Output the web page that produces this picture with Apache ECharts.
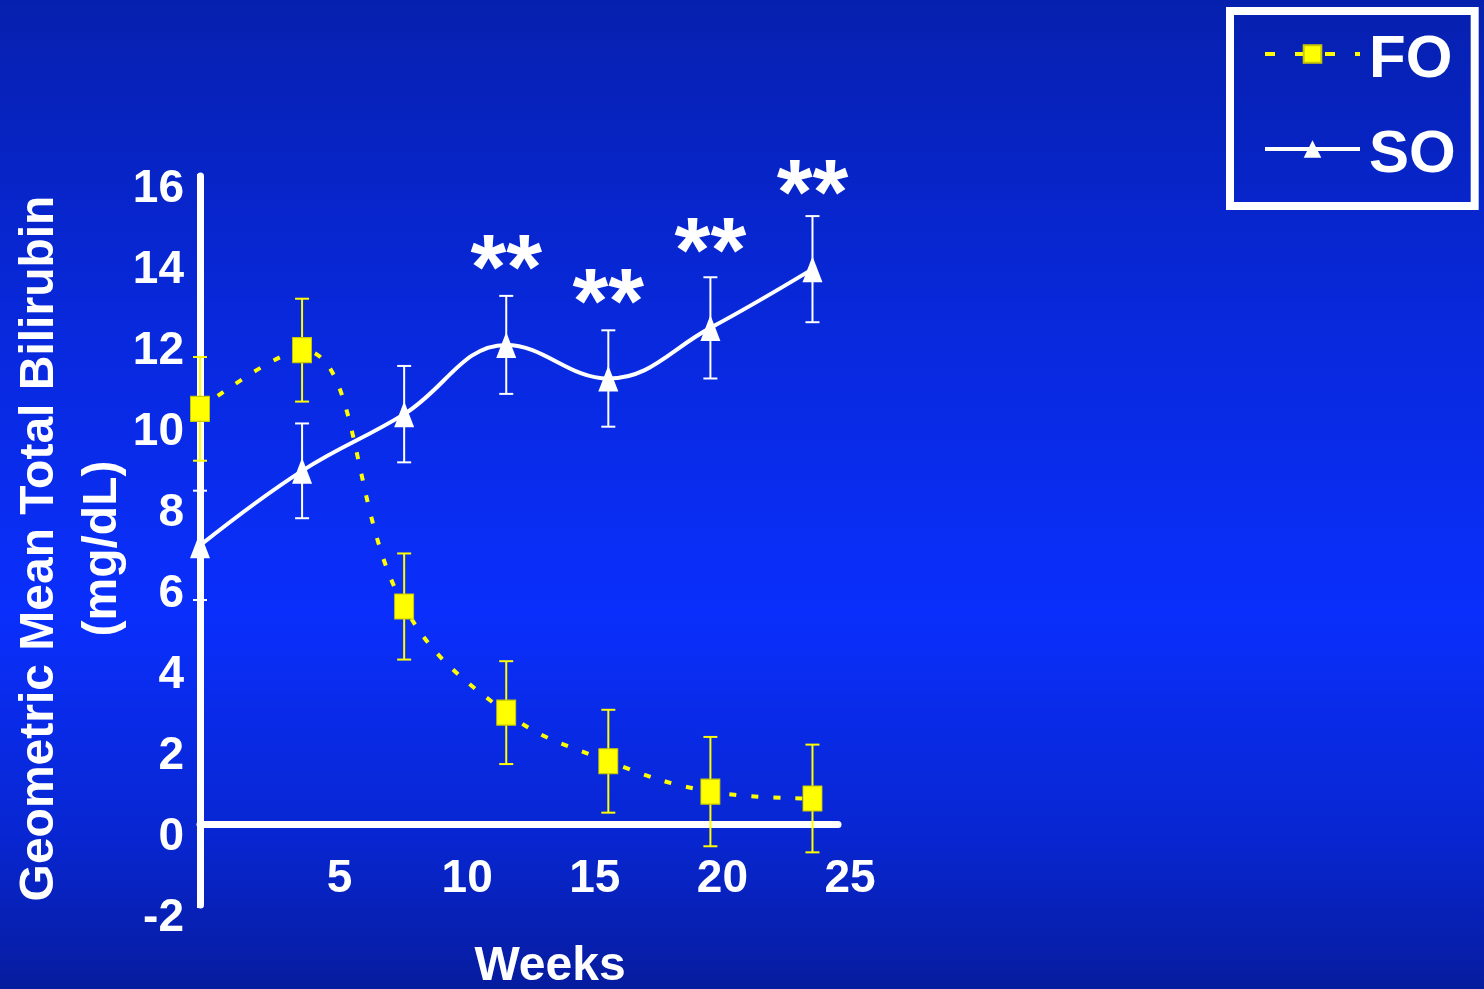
<!DOCTYPE html>
<html>
<head>
<meta charset="utf-8">
<title>Geometric Mean Total Bilirubin</title>
<script src="https://cdn.jsdelivr.net/npm/echarts@6/dist/echarts.min.js"></script>
<style>
  html, body { margin: 0; padding: 0; background: #0826d0; }
  #chart { width: 1484px; height: 989px; }
</style>
</head>
<body>
<div id="chart"></div>
<script>
// Sampling weeks and group results (geometric mean ± error, mg/dL)
const weeks  = [0, 4, 8, 12, 16, 20, 24];
const foMean = [10.25, 11.7, 5.37, 2.75, 1.55, 0.8, 0.63];
const foErr  = [1.28, 1.27, 1.31, 1.27, 1.27, 1.35, 1.33];
const soMean = [6.88, 8.72, 10.12, 11.83, 11.0, 12.25, 13.7];
const soErr  = [1.35, 1.17, 1.19, 1.21, 1.19, 1.25, 1.31];
// Significance markers shown above the SO points
const soFlags = ['', '', '', '**', '**', '**', '**'];

const FONT = "'Liberation Sans', Arial, sans-serif";
const YELLOW = '#ffff00';
const WHITE = '#ffffff';

// Vertical error bars with caps, positioned through the axes
function errorBars(name, means, errs, color) {
  return {
    type: 'custom',
    name: name,
    silent: true,
    z: 1,
    encode: { x: 0, y: [1, 2] },
    data: weeks.map((w, i) => [w, means[i] - errs[i], means[i] + errs[i]]),
    renderItem: function (params, api) {
      const x = api.value(0);
      const lo = api.coord([x, api.value(1)]);
      const hi = api.coord([x, api.value(2)]);
      const hw = 7;
      const style = { stroke: color, lineWidth: 2 };
      return {
        type: 'group',
        children: [
          { type: 'line', shape: { x1: lo[0], y1: lo[1], x2: hi[0], y2: hi[1] }, style: style },
          { type: 'line', shape: { x1: lo[0] - hw, y1: lo[1], x2: lo[0] + hw, y2: lo[1] }, style: style },
          { type: 'line', shape: { x1: hi[0] - hw, y1: hi[1], x2: hi[0] + hw, y2: hi[1] }, style: style }
        ]
      };
    }
  };
}

const chart = echarts.init(document.getElementById('chart'), null, { renderer: 'canvas' });

chart.setOption({
  animation: false,
  backgroundColor: {
    type: 'linear', x: 0, y: 0, x2: 0, y2: 1,
    colorStops: [
      { offset: 0, color: '#0620ae' },
      { offset: 0.3, color: '#0828d8' },
      { offset: 0.62, color: '#0a2ffc' },
      { offset: 0.85, color: '#0826d0' },
      { offset: 1, color: '#061c9e' }
    ]
  },
  textStyle: { fontFamily: FONT },
  grid: { left: 200, right: 646, top: 176, bottom: 84, containLabel: false, outerBoundsMode: 'none' },
  legend: {
    data: [
      { name: 'FO', lineStyle: { width: 4, type: [10, 20] } },
      { name: 'SO', lineStyle: { width: 4 } }
    ],
    orient: 'vertical',
    left: 1230,
    top: 11,
    itemWidth: 95,
    itemHeight: 22,
    itemGap: 35,
    padding: [19, 19, 21, 33],
    borderColor: WHITE,
    borderWidth: 8,
    formatter: '{t|{name}}',
    textStyle: {
      color: WHITE, fontSize: 60, fontWeight: 'bold', fontFamily: FONT,
      rich: { t: { color: WHITE, fontSize: 60, fontWeight: 'bold', fontFamily: FONT, padding: [12, 0, 0, 4] } }
    }
  },
  xAxis: {
    type: 'value',
    min: 0, max: 25, interval: 5,
    axisLine: { onZero: true, lineStyle: { color: WHITE, width: 7 } },
    axisTick: { show: true, length: 3, lineStyle: { color: WHITE, width: 6 } },
    splitLine: { show: false },
    axisLabel: {
      showMinLabel: false,
      color: WHITE, fontSize: 46, fontWeight: 'bold', fontFamily: FONT,
      margin: -49, padding: [0, 0, 0, 24]
    },
    name: 'Weeks',
    nameLocation: 'middle',
    nameGap: 38,
    nameMoveOverlap: false,
    nameTextStyle: { color: WHITE, fontSize: 48, fontWeight: 'bold', fontFamily: FONT, padding: [0, 0, 0, 62] }
  },
  yAxis: {
    type: 'value',
    min: -2, max: 16, interval: 2,
    axisLine: { show: true, lineStyle: { color: WHITE, width: 7 } },
    axisTick: { show: true, length: 3, lineStyle: { color: WHITE, width: 5 } },
    splitLine: { show: false },
    axisLabel: {
      color: WHITE, fontSize: 46, fontWeight: 'bold', fontFamily: FONT,
      margin: 16,
      formatter: '{v|{value}}',
      rich: { v: { color: WHITE, fontSize: 46, fontWeight: 'bold', fontFamily: FONT, padding: [27, 0, 0, 0] } }
    },
    name: 'Geometric Mean Total Bilirubin\n(mg/dL)',
    nameLocation: 'middle',
    nameRotate: 90,
    nameGap: 66,
    nameMoveOverlap: false,
    nameTextStyle: {
      color: WHITE, fontSize: 48, fontWeight: 'bold', fontFamily: FONT,
      lineHeight: 63, align: 'center', padding: [0, 16, 0, 0]
    }
  },
  series: [
    errorBars('FO error', foMean, foErr, YELLOW),
    errorBars('SO error', soMean, soErr, WHITE),
    {
      name: 'FO',
      type: 'line',
      z: 3,
      smooth: 0.4,
      symbol: 'rect',
      symbolSize: [19, 25],
      itemStyle: { color: YELLOW, borderColor: '#c9c900', borderWidth: 1 },
      lineStyle: { color: YELLOW, width: 4, type: [7, 15] },
      data: weeks.map((w, i) => [w, foMean[i]])
    },
    {
      name: 'SO',
      type: 'line',
      z: 4,
      smooth: 0.4,
      symbol: 'triangle',
      symbolSize: [20, 26],
      itemStyle: { color: WHITE },
      lineStyle: { color: WHITE, width: 4 },
      label: {
        show: true,
        position: 'top',
        distance: 12,
        color: WHITE,
        fontSize: 92,
        fontWeight: 'bold',
        fontFamily: FONT,
        formatter: p => soFlags[p.dataIndex]
      },
      data: weeks.map((w, i) => [w, soMean[i]])
    }
  ]
});
</script>
</body>
</html>
